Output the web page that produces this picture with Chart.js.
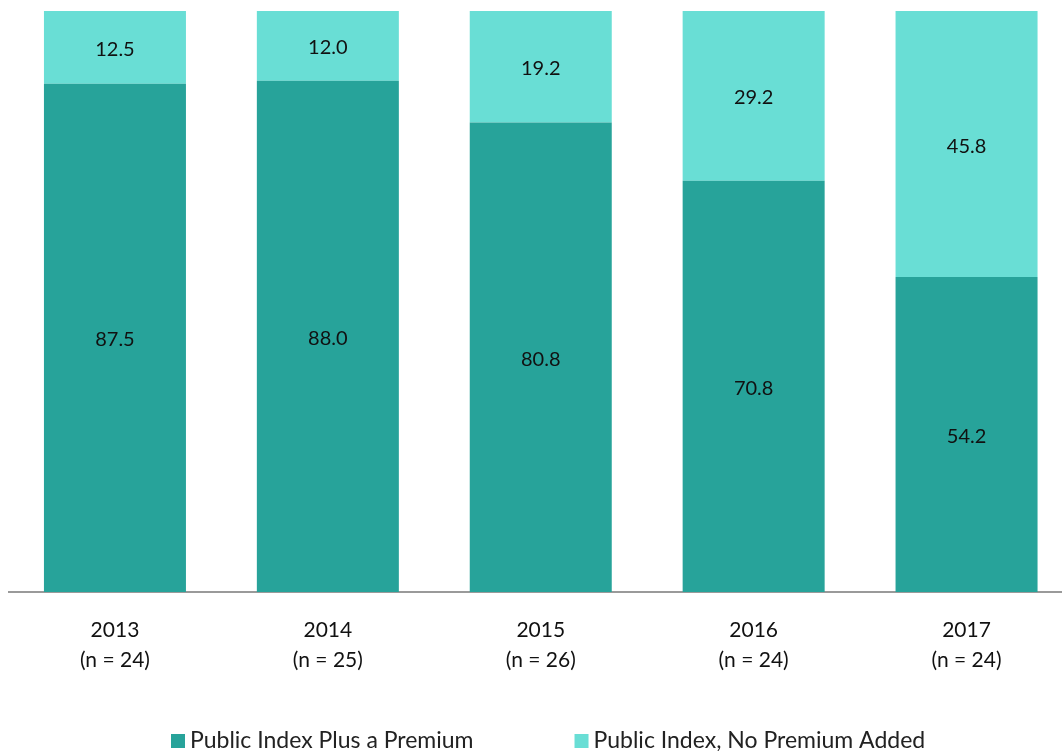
<!DOCTYPE html>
<html>
<head>
<meta charset="utf-8">
<script src="https://cdn.jsdelivr.net/npm/chart.js@4/dist/chart.umd.min.js"></script>
<style>
  html, body { margin: 0; padding: 0; background: #fff; }
  #frame { position: relative; width: 1062px; height: 751px; overflow: hidden; }
  #wrap { position: absolute; left: 0; top: 0; width: 1073px; height: 751px; }
</style>
</head>
<body>
<div id="frame"><div id="wrap"><canvas id="chart"></canvas></div></div>
<script>
const years = ['2013', '2014', '2015', '2016', '2017'];
const sampleSizes = ['(n = 24)', '(n = 25)', '(n = 26)', '(n = 24)', '(n = 24)'];
const plusPremium = [87.5, 88.0, 80.8, 70.8, 54.2];
const noPremium = [12.5, 12.0, 19.2, 29.2, 45.8];
const seriesNames = ['Public Index Plus a Premium', 'Public Index, No Premium Added'];
const seriesColors = ['#27A39A', '#69DED5'];

const FONT = 'Lato, "Open Sans", sans-serif';

// Value labels centred inside each stacked segment
const segmentLabels = {
  id: 'segmentLabels',
  afterDatasetsDraw(chart) {
    const ctx = chart.ctx;
    ctx.save();
    ctx.font = '20px ' + FONT;
    ctx.fillStyle = '#111';
    ctx.textAlign = 'center';
    ctx.textBaseline = 'middle';
    chart.data.datasets.forEach((ds, di) => {
      chart.getDatasetMeta(di).data.forEach((bar, i) => {
        const yMid = (bar.y + bar.base) / 2 + 2;
        ctx.fillText(ds.data[i].toFixed(1), bar.x, yMid);
      });
    });
    ctx.restore();
  }
};

// Legend row along the bottom edge
const bottomLegend = {
  id: 'bottomLegend',
  afterDraw(chart) {
    const ctx = chart.ctx;
    ctx.save();
    ctx.font = '23px ' + FONT;
    ctx.textBaseline = 'middle';
    ctx.textAlign = 'left';
    const y = 741;
    let x = 171;
    chart.data.datasets.forEach((ds) => {
      ctx.fillStyle = ds.backgroundColor;
      ctx.fillRect(x, y - 7, 14, 14);
      ctx.fillStyle = '#222';
      ctx.fillText(ds.label, x + 19, y);
      x += 19 + ctx.measureText(ds.label).width + 101;
    });
    ctx.restore();
  }
};

new Chart(document.getElementById('chart'), {
  type: 'bar',
  data: {
    labels: years.map((y, i) => [y, sampleSizes[i]]),
    datasets: [
      { label: seriesNames[0], data: plusPremium, backgroundColor: seriesColors[0] },
      { label: seriesNames[1], data: noPremium, backgroundColor: seriesColors[1] }
    ]
  },
  options: {
    responsive: true,
    maintainAspectRatio: false,
    animation: false,
    layout: { padding: { left: 8.5, top: 11, right: 0, bottom: 0 } },
    datasets: { bar: { categoryPercentage: 1, barPercentage: 0.667, borderWidth: 0 } },
    plugins: { legend: { display: false }, tooltip: { enabled: false } },
    scales: {
      x: {
        stacked: true,
        grid: { display: false, drawTicks: false },
        border: { display: true, color: '#9a9a9a', width: 2 },
        ticks: { color: '#111', font: { family: FONT, size: 21, lineHeight: 1.45 }, padding: 23, maxRotation: 0 },
        afterFit(scale) { scale.height = 159; }
      },
      y: {
        stacked: true,
        display: false,
        min: 0,
        max: 100
      }
    }
  },
  plugins: [segmentLabels, bottomLegend]
});
</script>
</body>
</html>
